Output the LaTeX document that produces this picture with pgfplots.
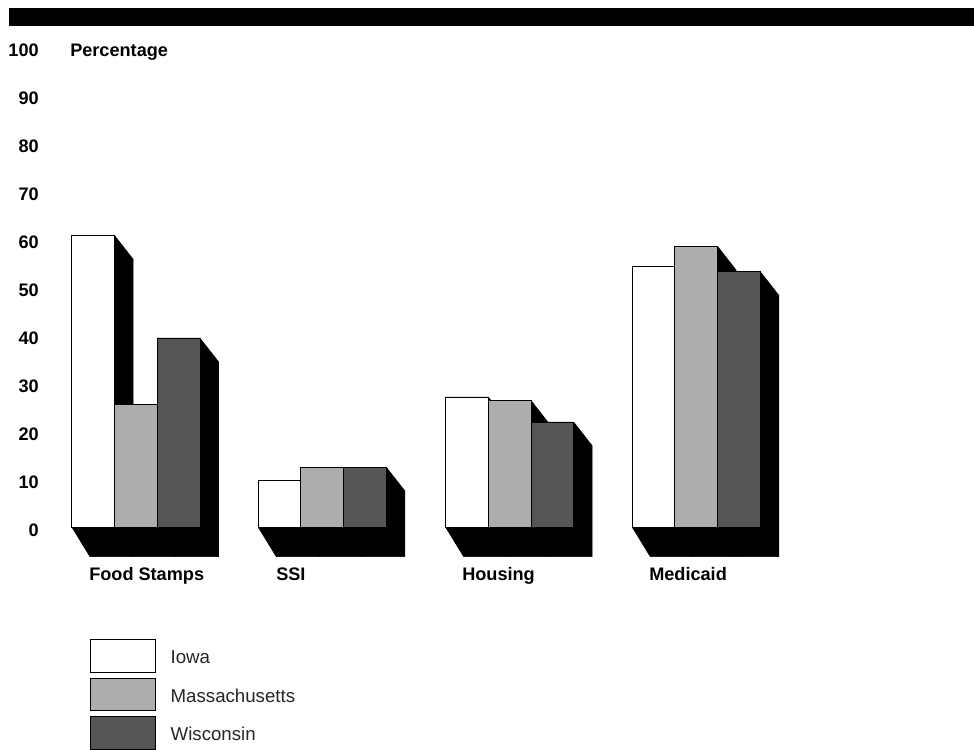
\documentclass[border=0pt]{standalone}
\usepackage{pgfplots}
\pgfplotsset{compat=1.18}
\usepackage{fontspec}
\setmainfont{Liberation Sans}
\definecolor{massgray}{HTML}{ADADAD}
\definecolor{wisgray}{HTML}{555555}
\pgfplotsset{
  mybar/.style={ybar, bar width=42.67, bar shift=0pt, draw=black, line width=0.75pt,
    legend image code/.code={\draw[##1, line width=0.75pt] (0pt,-10.5pt) rectangle (48.75pt,13.9pt);}},
  shadow/.style={fill=black, draw=black, line width=0.4pt, forget plot},
}
\begin{document}
\begin{tikzpicture}
\begin{axis}[
  scale only axis, width=730.5pt, height=559.5pt,
  xmin=0, xmax=974, ymin=-45.5625, ymax=109.854,
  axis line style={draw=none}, major tick length=0pt, tick style={draw=none},
  clip=false,
  /pgf/number format/assume math mode=true,
  ytick={0,10,...,100},
  yticklabel style={anchor=east, inner sep=0pt, xshift=29.25pt, yshift=-2pt, font=\fontsize{13.6}{16}\selectfont\bfseries},
  xtick={89,276,462,649},
  xticklabels={Food Stamps, SSI, Housing, Medicaid},
  xticklabel style={anchor=base west, inner sep=0pt, yshift=123.75pt, font=\fontsize{13.6}{16}\selectfont\bfseries},
  legend style={at={(axis cs:90,-23.33)}, anchor=north west, draw=none, fill=none,
    inner sep=0pt, outer sep=0pt, row sep=3.65pt, font=\fontsize{14}{16}\selectfont,
    nodes={inner sep=0pt, text=black!85},
    /tikz/every odd column/.append style={column sep=11pt}},
  legend cell align=left,
]
% top strip
\fill[black] (axis cs:9,104.44) rectangle (axis cs:974,108.19);
% shadows: Food Stamps
\addplot[shadow] coordinates {(72,0) (72,60.75) (114.67,60.75) (133.17,55.83) (133.17,-6.125) (90,-6.125)} --cycle;
\addplot[shadow] coordinates {(114.67,0) (114.67,25.5) (157.33,25.5) (175.83,20.58) (175.83,-6.125) (132.67,-6.125)} --cycle;
\addplot[shadow] coordinates {(157.33,0) (157.33,39.4) (200,39.4) (218.5,34.48) (218.5,-6.125) (175.33,-6.125)} --cycle;
% SSI
\addplot[shadow] coordinates {(258.3,0) (258.3,9.65) (300.97,9.65) (319.47,4.73) (319.47,-6.125) (276.3,-6.125)} --cycle;
\addplot[shadow] coordinates {(300.97,0) (300.97,12.5) (343.63,12.5) (362.13,7.58) (362.13,-6.125) (318.97,-6.125)} --cycle;
\addplot[shadow] coordinates {(343.63,0) (343.63,12.5) (386.3,12.5) (404.8,7.58) (404.8,-6.125) (361.63,-6.125)} --cycle;
% Housing
\addplot[shadow] coordinates {(445.7,0) (445.7,27.1) (488.37,27.1) (506.87,22.18) (506.87,-6.125) (463.7,-6.125)} --cycle;
\addplot[shadow] coordinates {(488.37,0) (488.37,26.4) (531.03,26.4) (549.53,21.48) (549.53,-6.125) (506.37,-6.125)} --cycle;
\addplot[shadow] coordinates {(531.03,0) (531.03,21.9) (573.7,21.9) (592.2,16.98) (592.2,-6.125) (549.03,-6.125)} --cycle;
% Medicaid
\addplot[shadow] coordinates {(632.3,0) (632.3,54.3) (674.97,54.3) (693.47,49.38) (693.47,-6.125) (650.3,-6.125)} --cycle;
\addplot[shadow] coordinates {(674.97,0) (674.97,58.5) (717.63,58.5) (736.13,53.58) (736.13,-6.125) (692.97,-6.125)} --cycle;
\addplot[shadow] coordinates {(717.63,0) (717.63,53.25) (760.3,53.25) (778.8,48.33) (778.8,-6.125) (735.63,-6.125)} --cycle;
% bars
\addplot[mybar, fill=white] coordinates {(93.33,60.75) (279.63,9.65) (467.03,27.1) (653.63,54.3)};
\addlegendentry{Iowa}
\addplot[mybar, fill=massgray] coordinates {(136.0,25.5) (322.3,12.5) (509.7,26.4) (696.3,58.5)};
\addlegendentry{Massachusetts}
\addplot[mybar, fill=wisgray] coordinates {(178.67,39.4) (364.97,12.5) (552.37,21.9) (738.97,53.25)};
\addlegendentry{Wisconsin}
\node[anchor=base west, inner sep=0pt, font=\fontsize{13.6}{16}\selectfont\bfseries] at (axis cs:70,98.04) {Percentage};
\end{axis}
\end{tikzpicture}
\end{document}
